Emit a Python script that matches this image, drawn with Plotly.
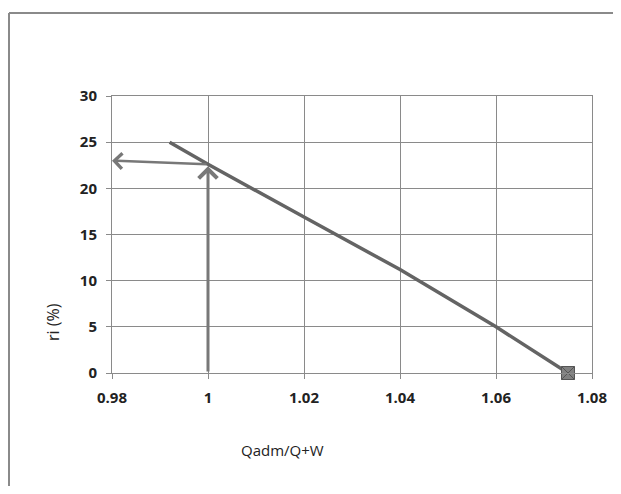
import plotly.graph_objects as go

# Data
q_ratio = [0.992, 1.0, 1.02, 1.03, 1.04, 1.06, 1.075]
ri_pct = [25.0, 22.6, 16.9, 14.0, 11.2, 5.0, 0.0]

# Guide arrows (vertical up at Qadm/Q+W = 1, then left to the y axis)
vert_arrow_x = [1.0, 1.0]
vert_arrow_y = [0.0, 22.4]
horiz_arrow_x = [1.0, 0.98]
horiz_arrow_y = [22.6, 23.0]

x_ticks = [0.98, 1.0, 1.02, 1.04, 1.06, 1.08]
x_tick_labels = ["0.98", "1", "1.02", "1.04", "1.06", "1.08"]
y_ticks = [0, 5, 10, 15, 20, 25, 30]

line_col = "#646464"
arrow_col = "#787878"
grid_col = "#8a8a8a"
font_fam = "Open Sans, Liberation Sans, sans-serif"

# page body has an 8px margin; figure is laid out to compensate
W, H = 613, 478
L, T = 104, 88
PW, PH = 480, 277

fig = go.Figure()

fig.add_trace(go.Scatter(
    x=q_ratio, y=ri_pct, mode="lines",
    line=dict(color=line_col, width=3.5),
    showlegend=False, hoverinfo="skip",
))
fig.add_trace(go.Scatter(
    x=[q_ratio[-1]], y=[ri_pct[-1]], mode="markers",
    marker=dict(symbol="square-x", size=13, color="#808080",
                line=dict(color="#555555", width=1)),
    showlegend=False, cliponaxis=False,
))

# arrows
fig.add_annotation(
    x=vert_arrow_x[1], y=vert_arrow_y[1], ax=vert_arrow_x[0], ay=vert_arrow_y[0],
    xref="x", yref="y", axref="x", ayref="y", text="",
    showarrow=True, arrowhead=4, arrowsize=1.2, arrowwidth=3, arrowcolor=arrow_col,
)
fig.add_annotation(
    x=horiz_arrow_x[1], y=horiz_arrow_y[1], ax=horiz_arrow_x[0], ay=horiz_arrow_y[0],
    xref="x", yref="y", axref="x", ayref="y", text="",
    showarrow=True, arrowhead=4, arrowsize=1.2, arrowwidth=2.5, arrowcolor=arrow_col,
)

# axis titles (positioned as in the reference, in plot-area pixel offsets)
fig.add_annotation(
    text="ri (%)", xref="paper", yref="paper",
    x=(53 - 112) / PW, y=(373 - 322) / PH, textangle=-90,
    xanchor="center", yanchor="middle",
    showarrow=False, font=dict(family=font_fam, size=16, color="#222222"),
)
fig.add_annotation(
    text="Qadm/Q+W", xref="paper", yref="paper",
    x=(282 - 112) / PW, y=(373 - 450) / PH,
    xanchor="center", yanchor="middle",
    showarrow=False, font=dict(family=font_fam, size=15, color="#222222"),
)

# outer chart frame (left and top edges; right/bottom run off the page)
fx0, fx1 = (9 - 112) / PW, (660 - 112) / PW
fy0, fy1 = (373 - 520) / PH, 1 + (96 - 13) / PH
fig.add_shape(type="line", xref="paper", yref="paper", x0=fx0, x1=fx0, y0=fy0, y1=fy1,
              line=dict(color="#8a8a8a", width=2), layer="below")
fig.add_shape(type="line", xref="paper", yref="paper", x0=fx0, x1=fx1, y0=fy1, y1=fy1,
              line=dict(color="#8a8a8a", width=2), layer="below")

fig.update_layout(
    width=W, height=H,
    margin=dict(l=L, r=W - L - PW, t=T, b=H - T - PH),
    paper_bgcolor="white", plot_bgcolor="white",
    font=dict(family=font_fam, color="#222222"),
    xaxis=dict(
        range=[0.98, 1.08], tickvals=x_ticks, ticktext=x_tick_labels,
        showgrid=True, gridcolor=grid_col, gridwidth=1,
        showline=True, linecolor=grid_col, linewidth=1, mirror=True,
        ticks="outside", ticklen=5, tickcolor=grid_col,
        ticklabelstandoff=6, automargin=False,
        tickfont=dict(family=font_fam, size=15, color="#222222", weight="bold"),
        zeroline=False, fixedrange=True,
    ),
    yaxis=dict(
        range=[0, 30], tickvals=y_ticks,
        showgrid=True, gridcolor=grid_col, gridwidth=1,
        showline=True, linecolor=grid_col, linewidth=1, mirror=True,
        ticks="outside", ticklen=5, tickcolor=grid_col,
        ticklabelstandoff=6, automargin=False,
        tickfont=dict(family=font_fam, size=15, color="#222222", weight="bold"),
        zeroline=False, fixedrange=True,
    ),
)

fig.write_html("out.html")
